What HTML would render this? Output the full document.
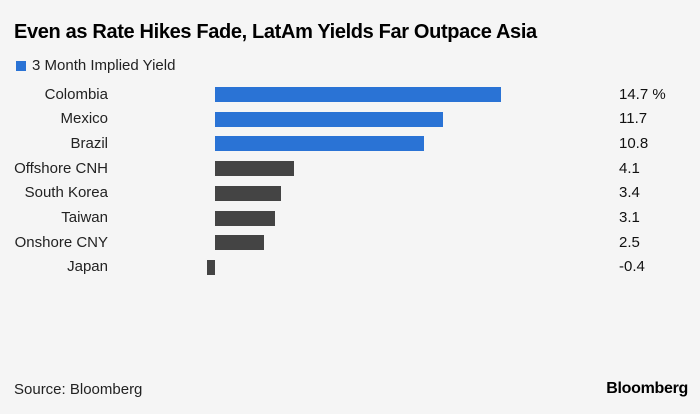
<!DOCTYPE html>
<html><head><meta charset="utf-8"><style>
body{margin:0;width:700px;height:414px;background:#f5f5f5;font-family:"Liberation Sans",sans-serif;color:#111;position:relative;overflow:hidden}
.a{position:absolute;white-space:nowrap}
.lab{position:absolute;right:592px;font-size:15px;color:#222}
.val{position:absolute;left:619px;font-size:15px;color:#111}
.bar{position:absolute;height:15px}
.b{background:#2a73d5}.d{background:#444}
</style></head><body>
<div class="a" style="left:14px;top:21px;font-size:20px;font-weight:bold;color:#000;letter-spacing:-0.35px">Even as Rate Hikes Fade, LatAm Yields Far Outpace Asia</div>
<div class="a" style="left:16px;top:61px;width:10px;height:10px;background:#2a73d5"></div>
<div class="a" style="left:32px;top:57px;font-size:15px;color:#222">3 Month Implied Yield</div>

<div class="lab" style="top:86px">Colombia</div><div class="bar b" style="left:215px;top:87px;width:286px"></div><div class="val" style="top:86px">14.7 %</div>
<div class="lab" style="top:110px">Mexico</div><div class="bar b" style="left:215px;top:111.7px;width:228px"></div><div class="val" style="top:110px">11.7</div>
<div class="lab" style="top:135px">Brazil</div><div class="bar b" style="left:215px;top:136.4px;width:209px"></div><div class="val" style="top:135px">10.8</div>
<div class="lab" style="top:160px">Offshore CNH</div><div class="bar d" style="left:215px;top:161.1px;width:79px"></div><div class="val" style="top:160px">4.1</div>
<div class="lab" style="top:184px">South Korea</div><div class="bar d" style="left:215px;top:185.8px;width:66px"></div><div class="val" style="top:184px">3.4</div>
<div class="lab" style="top:209px">Taiwan</div><div class="bar d" style="left:215px;top:210.5px;width:60px"></div><div class="val" style="top:209px">3.1</div>
<div class="lab" style="top:234px">Onshore CNY</div><div class="bar d" style="left:215px;top:235.2px;width:49px"></div><div class="val" style="top:234px">2.5</div>
<div class="lab" style="top:258px">Japan</div><div class="bar d" style="left:207px;top:260px;width:8px"></div><div class="val" style="top:258px">-0.4</div>

<div class="a" style="left:14px;top:381px;font-size:15px;color:#222">Source: Bloomberg</div>
<div class="a" style="right:12px;top:380px;font-size:16px;font-weight:bold;color:#000;letter-spacing:-0.3px">Bloomberg</div>
</body></html>
